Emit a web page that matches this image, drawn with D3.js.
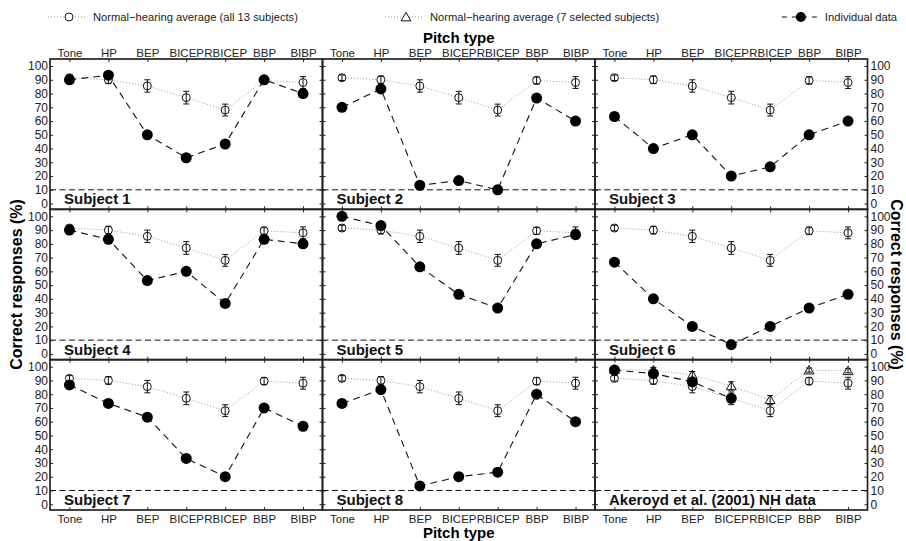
<!DOCTYPE html>
<html>
<head>
<meta charset="utf-8">
<script src="https://cdn.jsdelivr.net/npm/d3@7"></script>
<style>
  body { margin: 0; background: #fff; }
  svg { display: block; font-family: "Liberation Sans", Arial, sans-serif; }
  .tick text { fill: #222; }
</style>
</head>
<body>
<svg width="906" height="541"></svg>
<script>
// categories (pitch types) along x
const categories = ["Tone", "HP", "BEP", "BICEP", "RBICEP", "BBP", "BIBP"]

// normal-hearing averages, same in every panel
const nhAll = [91.5, 90, 85.5, 77, 68, 89.5, 88]
const nhAllErr = [2, 2.8, 4.5, 4.6, 4.3, 2.6, 4.3]
const nhSelected = [98, 97.5, 94, 86, 76, 97.5, 97]
const nhSelectedErr = [1.5, 2, 2.5, 3, 3, 1.5, 1.5]

// individual subjects
const subjectNames = ["Subject 1", "Subject 2", "Subject 3", "Subject 4", "Subject 5",
  "Subject 6", "Subject 7", "Subject 8"]
const subjectScores = [
  [90, 93.3, 50, 33.3, 43.3, 90, 80],
  [70, 83.3, 13.3, 16.7, 10, 76.7, 60],
  [63.3, 40, 50, 20, 26.7, 50, 60],
  [90, 83.3, 53.3, 60, 36.7, 83.3, 80],
  [100, 93.3, 63.3, 43.3, 33.3, 80, 86.7],
  [66.7, 40, 20, 6.7, 20, 33.3, 43.3],
  [86.7, 73.3, 63.3, 33.3, 20, 70, 56.7],
  [73.3, 83.3, 13.3, 20, 23.3, 80, 60]
]
const akeroydName = "Akeroyd et al. (2001) NH data"
const akeroydScores = [97.5, 95, 89, 77, null, null, null]

const chanceLevel = 10
const yTicks = [0, 10, 20, 30, 40, 50, 60, 70, 80, 90, 100]

const legendLabels = ["Normal\u2212hearing average (all 13 subjects)",
  "Normal\u2212hearing average (7 selected subjects)", "Individual data"]

// layout
const plotLeft = 50, plotRight = 867.5, plotTop = 59, plotBottom = 510
const nCols = 3, nRows = 3
const panelW = (plotRight - plotLeft) / nCols
const panelH = (plotBottom - plotTop) / nRows
const frameColor = "#222"

let svg = d3.select("svg")

let x = d3.scalePoint().domain(categories).range([0, panelW]).padding(0.5)
let y = d3.scaleLinear().domain([-4.2, 105.1]).range([panelH, 0])

let panels = subjectNames.map((name, i) => ({ name: name, scores: subjectScores[i], selected: false }))
panels.push({ name: akeroydName, scores: akeroydScores, selected: true })

function drawAverage(g, values, errs, shape) {
  let pts = categories.map((c, i) => ({ c: c, v: values[i], e: errs[i] }))
  g.append("path")
    .datum(pts)
    .attr("fill", "none")
    .attr("stroke", "#999")
    .attr("stroke-width", 1)
    .attr("stroke-dasharray", "1,2")
    .attr("d", d3.line().x(d => x(d.c)).y(d => y(d.v)))

  let sym = d3.symbol().type(d3.symbolTriangle).size(42)
  pts.forEach(d => {
    if (shape == "circle") {
      g.append("circle")
        .attr("cx", x(d.c)).attr("cy", y(d.v)).attr("r", 4)
        .attr("fill", "#fff").attr("stroke", "#111").attr("stroke-width", 1)
    } else {
      g.append("path")
        .attr("transform", "translate(" + x(d.c) + "," + (y(d.v) + 1) + ")")
        .attr("d", sym())
        .attr("fill", "#fff").attr("stroke", "#111").attr("stroke-width", 1)
    }
    let cx = x(d.c)
    g.append("path")
      .attr("fill", "none").attr("stroke", "#111").attr("stroke-width", 1)
      .attr("d", "M" + cx + "," + y(d.v - d.e) + "V" + y(d.v + d.e)
        + "M" + (cx - 3) + "," + y(d.v - d.e) + "H" + (cx + 3)
        + "M" + (cx - 3) + "," + y(d.v + d.e) + "H" + (cx + 3))
  })
}

panels.forEach((p, i) => {
  let col = i % nCols, row = Math.floor(i / nCols)
  let g = svg.append("g")
    .attr("transform", "translate(" + (plotLeft + col * panelW) + "," + (plotTop + row * panelH) + ")")

  // chance line
  g.append("line")
    .attr("x1", 0).attr("x2", panelW)
    .attr("y1", y(chanceLevel)).attr("y2", y(chanceLevel))
    .attr("stroke", "#111").attr("stroke-width", 1).attr("stroke-dasharray", "6,3.5")

  drawAverage(g, nhAll, nhAllErr, "circle")
  if (p.selected) drawAverage(g, nhSelected, nhSelectedErr, "triangle")

  let pts = categories.map((c, k) => ({ c: c, v: p.scores[k] })).filter(d => d.v != null)
  g.append("path")
    .datum(pts)
    .attr("fill", "none")
    .attr("stroke", "#111")
    .attr("stroke-width", 1.1)
    .attr("stroke-dasharray", "7,5")
    .attr("d", d3.line().x(d => x(d.c)).y(d => y(d.v)))
  g.selectAll(".dot")
    .data(pts)
    .enter()
    .append("circle")
    .attr("cx", d => x(d.c))
    .attr("cy", d => y(d.v))
    .attr("r", 5.5)
    .attr("fill", "#000")

  g.append("text")
    .attr("x", 14).attr("y", panelH - 5)
    .style("font-size", "15px").style("font-weight", "bold").attr("fill", "#111")
    .text(p.name)

  // inward ticks on all four sides
  let tl = g.append("g").call(d3.axisRight(y).tickValues(yTicks).tickSize(3).tickFormat(""))
  let tr = g.append("g").attr("transform", "translate(" + panelW + ",0)")
    .call(d3.axisLeft(y).tickValues(yTicks).tickSize(3).tickFormat(""))
  let tt = g.append("g").call(d3.axisBottom(x).tickSize(3).tickFormat(""))
  let tb = g.append("g").attr("transform", "translate(0," + panelH + ")")
    .call(d3.axisTop(x).tickSize(3).tickFormat(""))
  ;[tl, tr, tt, tb].forEach(a => {
    a.select(".domain").remove()
    a.selectAll("line").attr("stroke", frameColor)
  })

  g.append("rect")
    .attr("width", panelW).attr("height", panelH)
    .attr("fill", "none").attr("stroke", frameColor).attr("stroke-width", 1.7)

  // outer labels
  if (col == 0) {
    let a = g.append("g").call(d3.axisLeft(y).tickValues(yTicks).tickSize(0).tickPadding(2))
    a.select(".domain").remove()
    a.selectAll("text").style("font-size", "12px").attr("font-family", null)
  }
  if (col == nCols - 1) {
    let a = g.append("g").attr("transform", "translate(" + panelW + ",0)")
      .call(d3.axisRight(y).tickValues(yTicks).tickSize(0).tickPadding(3))
    a.select(".domain").remove()
    a.selectAll("text").style("font-size", "12px").attr("font-family", null)
  }
  if (row == 0) {
    let a = g.append("g").call(d3.axisTop(x).tickSize(0).tickPadding(2))
    a.select(".domain").remove()
    a.selectAll("text").style("font-size", "11.5px").attr("font-family", null)
  }
  if (row == nRows - 1) {
    let a = g.append("g").attr("transform", "translate(0," + panelH + ")")
      .call(d3.axisBottom(x).tickSize(0).tickPadding(5))
    a.select(".domain").remove()
    a.selectAll("text").style("font-size", "11.5px").attr("font-family", null)
  }
})

// axis titles
let midX = (plotLeft + plotRight) / 2, midY = (plotTop + plotBottom) / 2
svg.append("text").attr("x", midX).attr("y", 43).attr("text-anchor", "middle")
  .style("font-size", "15px").style("font-weight", "bold").text("Pitch type")
svg.append("text").attr("x", midX).attr("y", 538).attr("text-anchor", "middle")
  .style("font-size", "15px").style("font-weight", "bold").text("Pitch type")
svg.append("text").attr("transform", "translate(22," + midY + ") rotate(-90)")
  .attr("text-anchor", "middle")
  .style("font-size", "16px").style("font-weight", "bold").text("Correct responses (%)")
svg.append("text").attr("transform", "translate(891," + midY + ") rotate(90)")
  .attr("text-anchor", "middle")
  .style("font-size", "16px").style("font-weight", "bold").text("Correct responses (%)")

// legend
let legendY = 17
let lg = svg.append("g")
function legendItem(kind, label, textX, textEnd) {
  let t = lg.append("text").attr("y", legendY + 4)
    .style("font-size", "11.2px").attr("fill", "#222").text(label)
  if (textEnd != null) textX = textEnd - t.node().getComputedTextLength()
  t.attr("x", textX)
  let cx = textX - 24
  if (kind == "dashed") {
    lg.append("line").attr("x1", cx - 19).attr("x2", cx + 19).attr("y1", legendY).attr("y2", legendY)
      .attr("stroke", "#111").attr("stroke-width", 1.1).attr("stroke-dasharray", "5,5")
    lg.append("circle").attr("cx", cx).attr("cy", legendY).attr("r", 5).attr("fill", "#000")
  } else {
    lg.append("line").attr("x1", cx - 21).attr("x2", cx + 17).attr("y1", legendY).attr("y2", legendY)
      .attr("stroke", "#999").attr("stroke-dasharray", "1,2")
    if (kind == "circle") {
      lg.append("circle").attr("cx", cx).attr("cy", legendY).attr("r", 4)
        .attr("fill", "#fff").attr("stroke", "#111")
    } else {
      lg.append("path").attr("transform", "translate(" + cx + "," + (legendY + 1) + ")")
        .attr("d", d3.symbol().type(d3.symbolTriangle).size(42)())
        .attr("fill", "#fff").attr("stroke", "#111")
    }
  }
}
legendItem("circle", legendLabels[0], 93)
legendItem("triangle", legendLabels[1], 430)
legendItem("dashed", legendLabels[2], null, 897)
</script>
</body>
</html>
